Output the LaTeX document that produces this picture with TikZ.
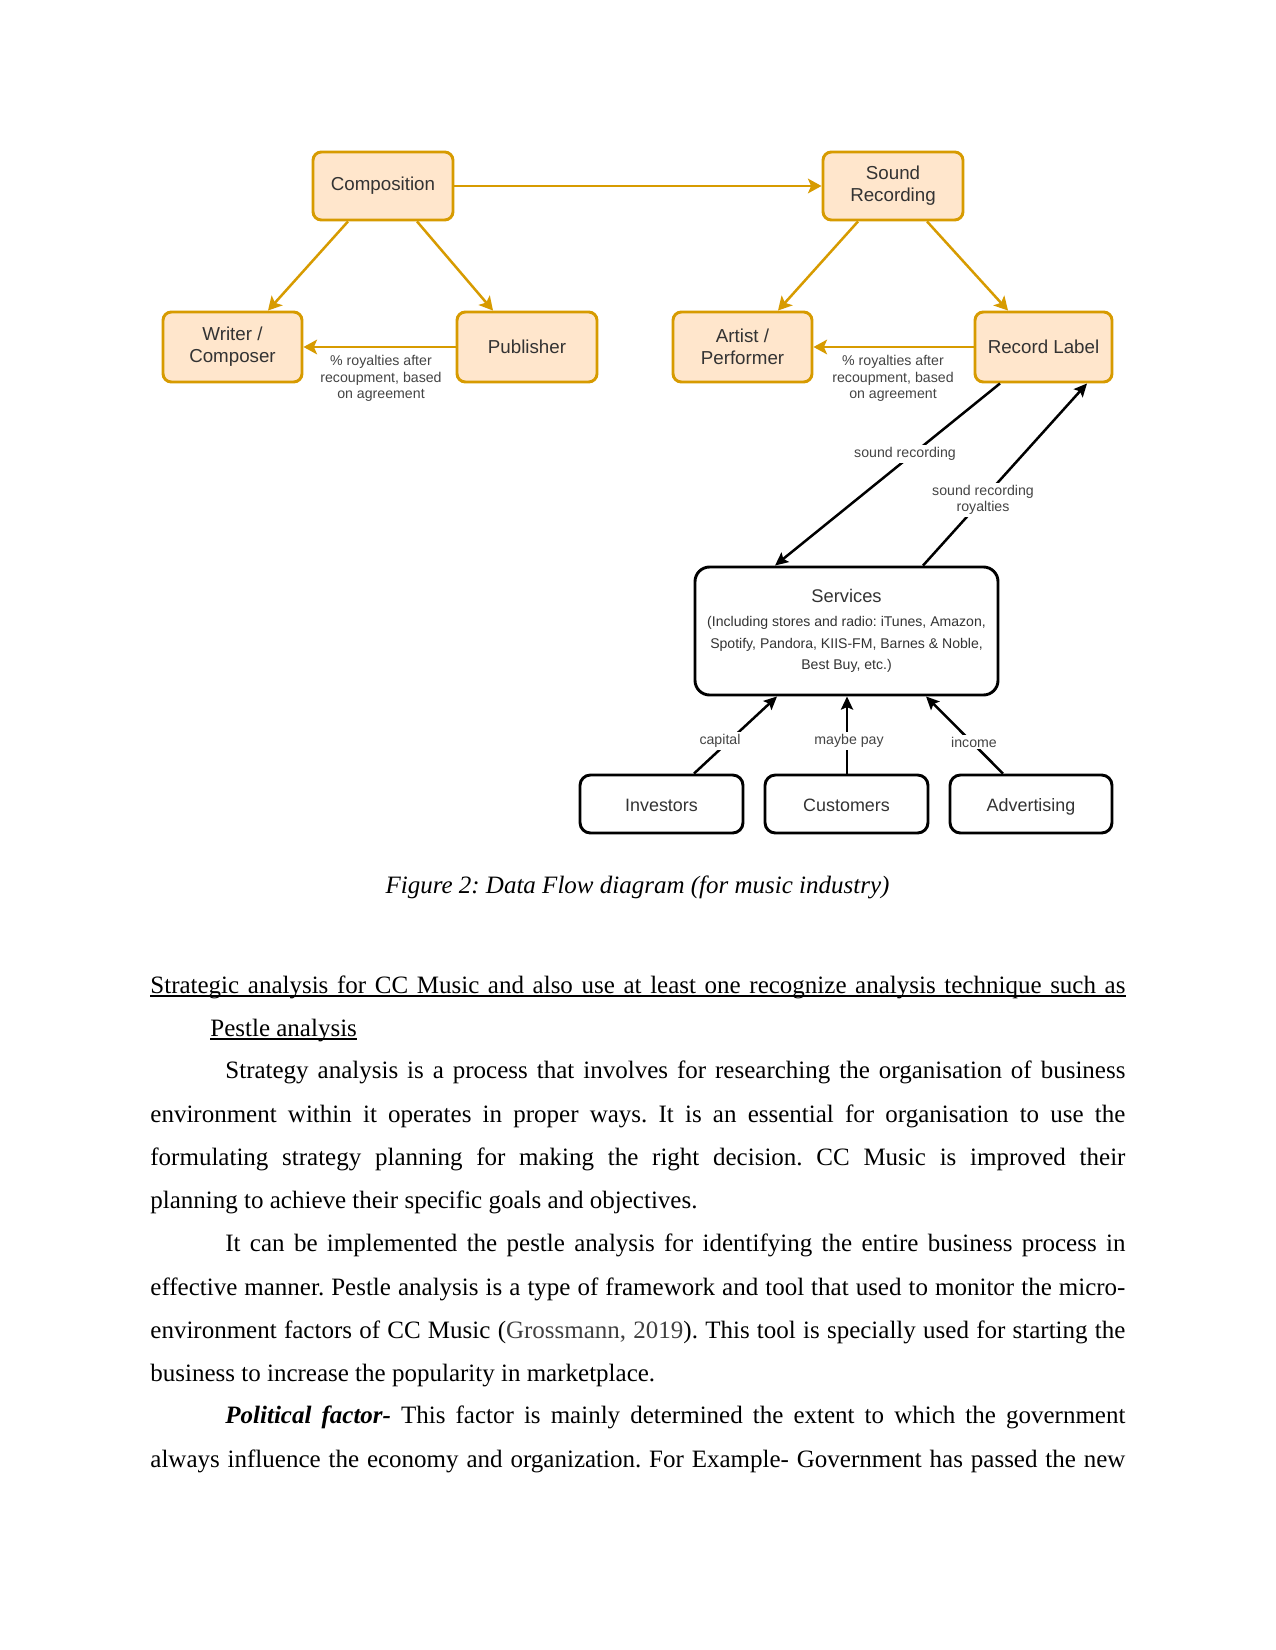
\documentclass[tikz,border=0pt]{standalone}
\usepackage{fontspec}
\setmainfont{Liberation Serif}
\newfontfamily\dsans{Liberation Sans}
\usetikzlibrary{arrows.meta,calc}
\definecolor{ofill}{HTML}{FFE6CC}
\definecolor{oline}{HTML}{D79B00}
\definecolor{dtext}{HTML}{333333}
\definecolor{ltext}{HTML}{444444}
\definecolor{citec}{HTML}{404040}
\frenchspacing
\begin{document}
\begin{tikzpicture}[x=0.48pt,y=-0.48pt,
  sz/.style 2 args={minimum width=#1*0.48pt, minimum height=#2*0.48pt},
  obox/.style={draw=oline, fill=ofill, line width=1.4pt, rounded corners=4pt, font=\dsans\fontsize{9}{10.5}\selectfont, text=dtext, align=center, inner sep=0pt},
  kbox/.style={draw=black, fill=white, line width=1.4pt, rounded corners=5pt, font=\dsans\fontsize{8.6}{10.5}\selectfont, text=dtext, align=center, inner sep=0pt},
  kb/.style={kbox, text height=7.5pt, text depth=0pt},
  oarrow/.style={draw=oline, line width=1.2pt, -{Stealth[length=6.5pt,width=7pt,inset=1.5pt]}},
  karrow/.style={draw=black, line width=1.2pt, -{Stealth[length=6.3pt,width=5.8pt,inset=1.2pt]}},
  elabel/.style={font=\dsans\fontsize{6.8}{8}\selectfont, text=ltext, align=center, inner sep=1pt},
  wlabel/.style={elabel, fill=white},
  body/.style={anchor=base west, inner sep=0pt, font=\fontsize{12}{14}\selectfont},
  uline/.style={line width=0.8pt}
]
\useasboundingbox (0,0) rectangle (1275,1650);
\fill[white] (0,0) rectangle (1275,1650);

% orange boxes
\node[obox, sz={140}{68}] (comp) at (383,186) {Composition};
\node[obox, sz={140}{68}] (sound) at (893,186) {Sound\\Recording};
\node[obox, sz={139}{70}] (writer) at (232.5,347) {Writer /\\Composer};
\node[obox, sz={140}{70}] (pub) at (527,347) {Publisher};
\node[obox, sz={139}{70}] (artist) at (742.5,347) {Artist /\\Performer};
\node[obox, sz={137}{70}] (rl) at (1043.5,347) {Record Label};

% black boxes
\node[kbox, sz={303}{128}, rounded corners=7pt, font=\dsans\fontsize{6.75}{10.4}\selectfont] (serv) at (846.5,631)
  {{\fontsize{8.8}{10}\selectfont Services}\\[1.1pt]
   (Including stores and radio: iTunes, Amazon,\\
   Spotify, Pandora, KIIS-FM, Barnes \& Noble,\\
   Best Buy, etc.)};
\node[kb, sz={163}{58}] (inv) at (661.5,804) {Investors};
\node[kb, sz={163}{58}] (cust) at (846.5,804) {Customers};
\node[kb, sz={162}{58}] (adv) at (1031,804) {Advertising};

% orange connectors
\draw[oarrow] (comp.east) -- (sound.west);
\draw[oarrow] (348,0 |- comp.south) -- (268,0 |- writer.north);
\draw[oarrow] (417,0 |- comp.south) -- (493,0 |- pub.north);
\draw[oarrow] (858,0 |- sound.south) -- (778,0 |- artist.north);
\draw[oarrow] (927,0 |- sound.south) -- (1008,0 |- rl.north);
\draw[oarrow] (pub.west) -- (writer.east);
\draw[oarrow] (rl.west) -- (artist.east);
\node[elabel] (lab1) at (381,378.5) {\% royalties after\\recoupment, based\\on agreement};
\node[elabel] (lab2) at (893,378.5) {\% royalties after\\recoupment, based\\on agreement};

% black connectors
\draw[karrow] (1000,0 |- rl.south) -- (775,0 |- serv.north);
\node[wlabel] (lab3) at (905,454) {sound recording};
\draw[karrow] (923,0 |- serv.north) -- (1087,0 |- rl.south);
\node[wlabel] (lab4) at (983,500) {sound recording\\royalties};
\draw[karrow] (694,0 |- inv.north) -- (777,0 |- serv.south);
\node[wlabel] (lab5) at (720,741) {capital};
\draw[karrow] (847,0 |- cust.north) -- (847,0 |- serv.south);
\node[wlabel] (lab6) at (849,741) {maybe pay};
\draw[karrow] (1003,0 |- adv.north) -- (926,0 |- serv.south);
\node[wlabel] (lab7) at (974,742) {income};

% caption
\node[anchor=base, inner sep=0pt, font=\itshape\fontsize{12}{14}\selectfont] (cap) at (637.5,893) {Figure 2: Data Flow diagram (for music industry)};

% body text
\node[body] (h1) at (150,993) {\hbox to 468pt{Strategic analysis for CC Music and also use at least one recognize analysis technique such as}};
\draw[uline] ($(h1.base west)+(0,3)$) -- ($(h1.base east)+(0,3)$);
\node[body] (h2) at (210,1036) {Pestle analysis};
\draw[uline] ($(h2.base west)+(0,3)$) -- ($(h2.base east)+(0,3)$);

\node[body] (l1) at (225,1078) {\hbox to 432pt{Strategy analysis is a process that involves for researching the organisation of business}};
\node[body] (l2) at (150,1122) {\hbox to 468pt{environment within it operates in proper ways. It is an essential for organisation to use the}};
\node[body] (l3) at (150,1165) {\hbox to 468pt{formulating strategy planning for making the right decision. CC Music is improved their}};
\node[body] (l4) at (150,1208) {planning to achieve their specific goals and objectives.};
\node[body] (l5) at (225,1251) {\hbox to 432pt{It can be implemented the pestle analysis for identifying the entire business process in}};
\node[body] (l6) at (150,1295) {\hbox to 468pt{effective manner. Pestle analysis is a type of framework and tool that used to monitor the micro-}};
\node[body] (l7) at (150,1338) {\hbox to 468pt{environment factors of CC Music ({\color{citec}Grossmann, 2019}). This tool is specially used for starting the}};
\node[body] (l8) at (150,1381) {business to increase the popularity in marketplace.};
\node[body] (l9) at (225,1423) {\hbox to 432pt{\textbf{\textit{Political factor-}} This factor is mainly determined the extent to which the government}};
\node[body] (l10) at (150,1467) {\hbox to 468pt{always influence the economy and organization. For Example- Government has passed the new}};
\end{tikzpicture}
\end{document}
